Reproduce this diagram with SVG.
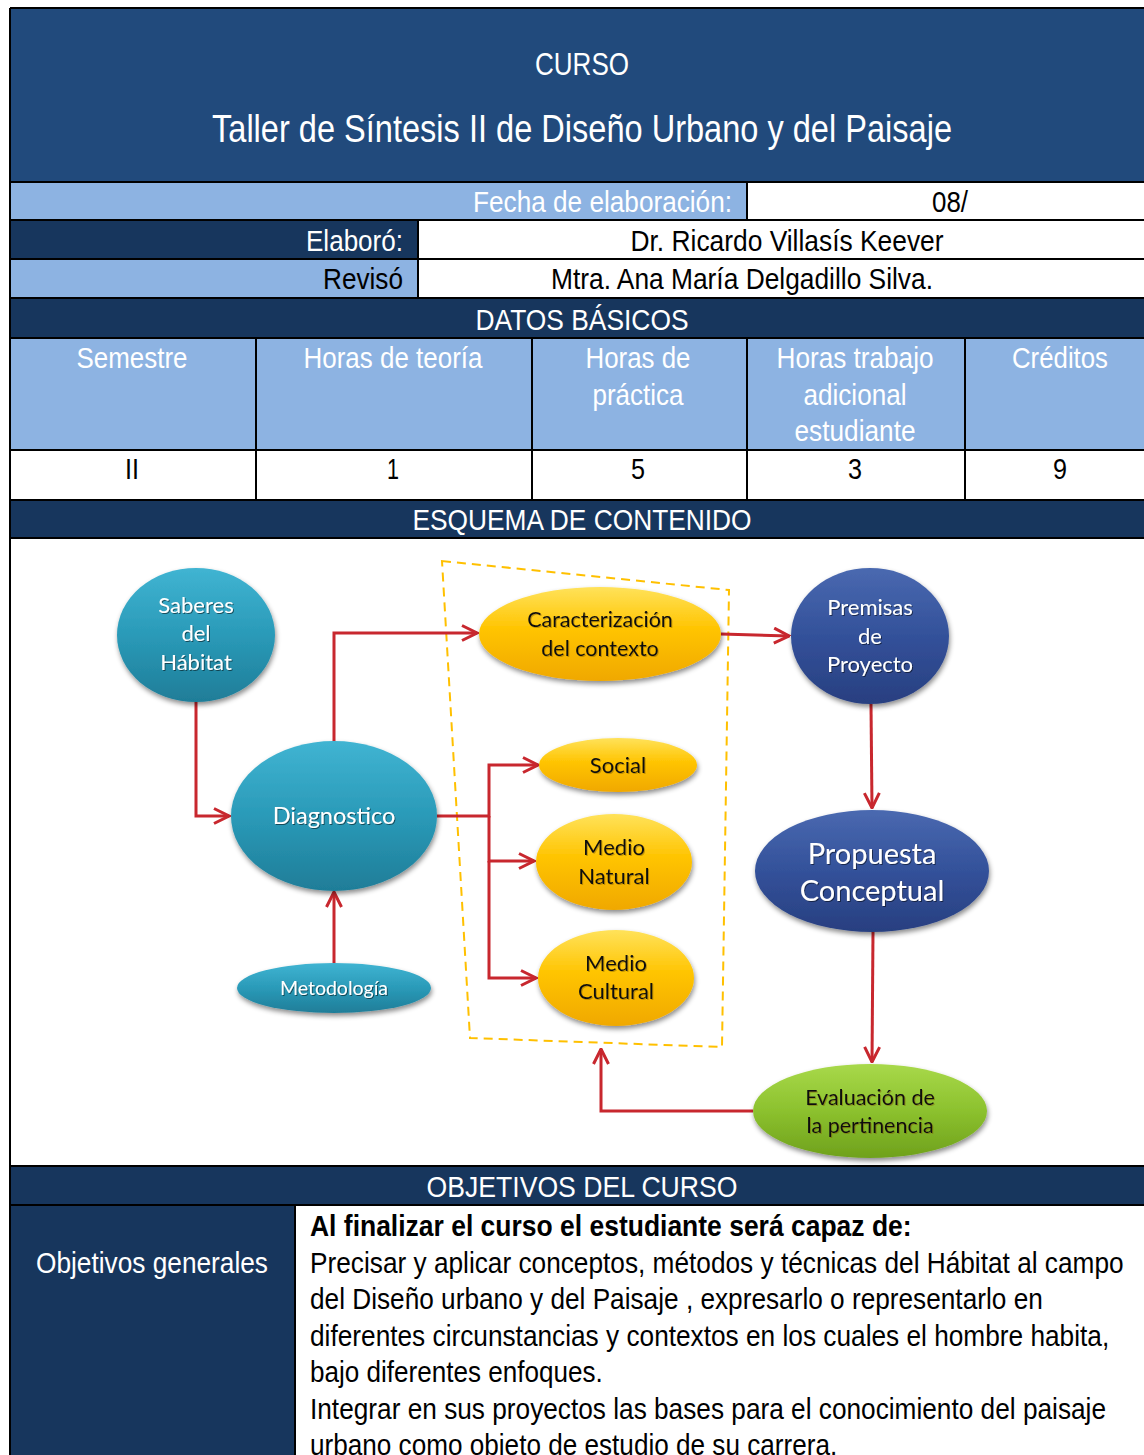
<svg xmlns="http://www.w3.org/2000/svg" width="1144" height="1455" viewBox="0 0 1144 1455">
<style>
.t{font-family:"Liberation Sans Narrow","Liberation Sans",Arial,sans-serif;font-size:30px}
.w{fill:#ffffff}.k{fill:#000000}
.c{text-anchor:middle}.r{text-anchor:end}
.d{font-family:Lato,Carlito,"Open Sans",sans-serif;text-anchor:middle}
.dw{fill:#ffffff}.dk{fill:#111111}
.ln{stroke:#000;stroke-width:2;fill:none}
.cn{stroke:#c8272e;stroke-width:3;fill:none;marker-end:url(#ar)}
</style>
<defs>
<marker id="ar" viewBox="0 0 12 12" refX="11" refY="6" markerWidth="6" markerHeight="6" markerUnits="strokeWidth" orient="auto">
<path d="M1,1 L11,6 L1,11" fill="none" stroke="#c8272e" stroke-width="2"/>
</marker>
<linearGradient id="gt" x1="0" y1="0" x2="0" y2="1"><stop offset="0" stop-color="#40b4d2"/><stop offset="0.5" stop-color="#2a9ab8"/><stop offset="1" stop-color="#1f7d98"/></linearGradient>
<linearGradient id="gy" x1="0" y1="0" x2="0" y2="1"><stop offset="0" stop-color="#ffe25a"/><stop offset="0.45" stop-color="#ffc400"/><stop offset="1" stop-color="#f0a800"/></linearGradient>
<linearGradient id="gb" x1="0" y1="0" x2="0" y2="1"><stop offset="0" stop-color="#4a69b0"/><stop offset="0.5" stop-color="#33519a"/><stop offset="1" stop-color="#283f80"/></linearGradient>
<linearGradient id="gg" x1="0" y1="0" x2="0" y2="1"><stop offset="0" stop-color="#a8d94a"/><stop offset="0.5" stop-color="#8cc12e"/><stop offset="1" stop-color="#6fa11c"/></linearGradient>
<filter id="sh" x="-20%" y="-20%" width="140%" height="150%"><feDropShadow dx="1" dy="3" stdDeviation="2.5" flood-color="#000" flood-opacity="0.45"/></filter>
<filter id="ts" x="-10%" y="-20%" width="120%" height="150%"><feDropShadow dx="1" dy="1" stdDeviation="0.6" flood-color="#000" flood-opacity="0.5"/></filter>
<filter id="tk" x="-10%" y="-20%" width="120%" height="150%"><feDropShadow dx="1" dy="1" stdDeviation="0.6" flood-color="#7a5a00" flood-opacity="0.45"/></filter>
</defs>

<rect x="0" y="0" width="1144" height="1455" fill="#ffffff"/>
<g id="header">
<rect x="10" y="8" width="1140" height="174" fill="#214a7c"/>
<text class="t w c" x="582" y="75" style="font-size:32px" textLength="94" lengthAdjust="spacingAndGlyphs">CURSO</text>
<text class="t w c" x="582" y="142" style="font-size:38px" textLength="740" lengthAdjust="spacingAndGlyphs">Taller de Síntesis II de Diseño Urbano y del Paisaje</text>
</g>
<g id="fecha">
<rect x="10" y="182" width="737" height="37" fill="#8db3e2"/>
<text class="t w r" x="732" y="212" textLength="259" lengthAdjust="spacingAndGlyphs">Fecha de elaboración:</text>
<text class="t k c" x="950" y="212" textLength="36" lengthAdjust="spacingAndGlyphs">08/</text>
</g>
<g id="elaboro">
<rect x="10" y="220" width="408" height="38" fill="#17365d"/>
<text class="t w r" x="403" y="251" textLength="97" lengthAdjust="spacingAndGlyphs">Elaboró:</text>
<text class="t k c" x="787" y="251" textLength="313" lengthAdjust="spacingAndGlyphs">Dr. Ricardo Villasís Keever</text>
</g>
<g id="reviso">
<rect x="10" y="259" width="408" height="39" fill="#8db3e2"/>
<text class="t k r" x="403" y="289" textLength="80" lengthAdjust="spacingAndGlyphs">Revisó</text>
<text class="t k c" x="742" y="289" textLength="382" lengthAdjust="spacingAndGlyphs">Mtra. Ana María Delgadillo Silva.</text>
</g>
<g id="datos">
<rect x="10" y="299" width="1140" height="38" fill="#17365d"/>
<text class="t w c" x="582" y="330" textLength="213" lengthAdjust="spacingAndGlyphs">DATOS BÁSICOS</text>
</g>
<g id="cols">
<rect x="10" y="338" width="1140" height="112" fill="#8db3e2"/>
<text class="t w c" x="132" y="368" textLength="111" lengthAdjust="spacingAndGlyphs">Semestre</text>
<text class="t w c" x="393" y="368" textLength="179" lengthAdjust="spacingAndGlyphs">Horas de teoría</text>
<text class="t w c" x="638" y="368" textLength="105" lengthAdjust="spacingAndGlyphs">Horas de</text>
<text class="t w c" x="638" y="405" textLength="91" lengthAdjust="spacingAndGlyphs">práctica</text>
<text class="t w c" x="855" y="368" textLength="157" lengthAdjust="spacingAndGlyphs">Horas trabajo</text>
<text class="t w c" x="855" y="405" textLength="103" lengthAdjust="spacingAndGlyphs">adicional</text>
<text class="t w c" x="855" y="441" textLength="121" lengthAdjust="spacingAndGlyphs">estudiante</text>
<text class="t w c" x="1060" y="368" textLength="96" lengthAdjust="spacingAndGlyphs">Créditos</text>
</g>
<g id="values">
<text class="t k c" x="132" y="479" textLength="14" lengthAdjust="spacingAndGlyphs">II</text>
<text class="t k c" x="393" y="479" textLength="12" lengthAdjust="spacingAndGlyphs">1</text>
<text class="t k c" x="638" y="479" textLength="14" lengthAdjust="spacingAndGlyphs">5</text>
<text class="t k c" x="855" y="479" textLength="14" lengthAdjust="spacingAndGlyphs">3</text>
<text class="t k c" x="1060" y="479" textLength="14" lengthAdjust="spacingAndGlyphs">9</text>
</g>
<g id="esquema">
<rect x="10" y="501" width="1140" height="37" fill="#17365d"/>
<text class="t w c" x="582" y="530" textLength="339" lengthAdjust="spacingAndGlyphs">ESQUEMA DE CONTENIDO</text>
</g>
<g id="objetivos-title">
<rect x="10" y="1167" width="1140" height="38" fill="#17365d"/>
<text class="t w c" x="582" y="1197" textLength="311" lengthAdjust="spacingAndGlyphs">OBJETIVOS DEL CURSO</text>
</g>
<g id="objetivos">
<rect x="10" y="1206" width="285" height="260" fill="#17365d"/>
<text class="t w c" x="152" y="1273" textLength="232" lengthAdjust="spacingAndGlyphs">Objetivos generales</text>
<g transform="translate(310,0) scale(0.8,1)">
<text class="t k" x="0" y="1236" style="font-weight:bold" textLength="752" lengthAdjust="spacingAndGlyphs">Al finalizar el curso el estudiante será capaz  de:</text>
<text class="t k" x="0" y="1273" textLength="1017" lengthAdjust="spacingAndGlyphs">Precisar y aplicar conceptos, métodos y técnicas del Hábitat al campo</text>
<text class="t k" x="0" y="1309" textLength="916" lengthAdjust="spacingAndGlyphs">del Diseño urbano y del Paisaje , expresarlo o representarlo en</text>
<text class="t k" x="0" y="1346" textLength="999" lengthAdjust="spacingAndGlyphs">diferentes circunstancias y contextos en los cuales el hombre habita,</text>
<text class="t k" x="0" y="1382" textLength="366" lengthAdjust="spacingAndGlyphs">bajo diferentes enfoques.</text>
<text class="t k" x="0" y="1419" textLength="995" lengthAdjust="spacingAndGlyphs">Integrar en sus proyectos las bases para el conocimiento del paisaje</text>
<text class="t k" x="0" y="1455" textLength="659" lengthAdjust="spacingAndGlyphs">urbano como objeto de estudio de su carrera.</text>
</g>
</g>
<g id="grid">
<path class="ln" d="M10,8 H1150 M10,8 V1460 M10,182 H1150 M10,220 H1150 M10,259 H1150 M10,298 H1150 M10,338 H1150 M10,450 H1150 M10,500 H1150 M10,538 H1150 M10,1166 H1150 M10,1205 H1150"/>
<path class="ln" d="M747,182 V220 M418,220 V298 M256,338 V500 M532,338 V500 M747,338 V500 M965,338 V500 M295,1205 V1460"/>
</g>

<polygon id="contexto-box" points="442,561 729,590 722,1047 470,1038" fill="none" stroke="#ffc000" stroke-width="2" stroke-dasharray="9,6"/>
<g id="connectors">
<path class="cn" d="M196,702 V816 H229"/>
<path class="cn" d="M334,742 V633 H477"/>
<path class="cn" d="M721,634 L789,636"/>
<path class="cn" d="M437,816 H489 V765 H538"/>
<path class="cn" d="M489,816 V861 H534"/>
<path class="cn" d="M489,861 V978 H536"/>
<path class="cn" d="M334,963 V892"/>
<path class="cn" d="M871,704 L872,808"/>
<path class="cn" d="M873,932 L872,1062"/>
<path class="cn" d="M753,1111 H601 V1049"/>
</g>
<g id="saberes">
<ellipse cx="196" cy="635" rx="79" ry="67" fill="url(#gt)" filter="url(#sh)"/>
<g class="d dw" font-size="22" filter="url(#ts)"><text x="196" y="613">Saberes</text><text x="196" y="641">del</text><text x="196" y="670">Hábitat</text></g>
</g>
<g id="diagnostico">
<ellipse cx="334" cy="816" rx="103" ry="75" fill="url(#gt)" filter="url(#sh)"/>
<text class="d dw" x="334" y="824" font-size="23.5" filter="url(#ts)">Diagnostico</text>
</g>
<g id="metodologia">
<ellipse cx="334" cy="988" rx="97" ry="25" fill="url(#gt)" filter="url(#sh)"/>
<text class="d dw" x="334" y="995" font-size="19.5" filter="url(#ts)">Metodología</text>
</g>
<g id="caracterizacion">
<ellipse cx="600" cy="634" rx="121" ry="47" fill="url(#gy)" filter="url(#sh)"/>
<g class="d dk" font-size="21.5" filter="url(#tk)"><text x="600" y="627">Caracterización</text><text x="600" y="656">del contexto</text></g>
</g>
<g id="social">
<ellipse cx="618" cy="765" rx="79" ry="27" fill="url(#gy)" filter="url(#sh)"/>
<text class="d dk" x="618" y="773" font-size="22" filter="url(#tk)">Social</text>
</g>
<g id="medio-natural">
<ellipse cx="614" cy="862" rx="78" ry="48" fill="url(#gy)" filter="url(#sh)"/>
<g class="d dk" font-size="22" filter="url(#tk)"><text x="614" y="855">Medio</text><text x="614" y="884">Natural</text></g>
</g>
<g id="medio-cultural">
<ellipse cx="616" cy="978" rx="78" ry="48" fill="url(#gy)" filter="url(#sh)"/>
<g class="d dk" font-size="22" filter="url(#tk)"><text x="616" y="971">Medio</text><text x="616" y="999">Cultural</text></g>
</g>
<g id="premisas">
<ellipse cx="870" cy="636" rx="79" ry="68" fill="url(#gb)" filter="url(#sh)"/>
<g class="d dw" font-size="22" filter="url(#ts)"><text x="870" y="615">Premisas</text><text x="870" y="644">de</text><text x="870" y="672">Proyecto</text></g>
</g>
<g id="propuesta">
<ellipse cx="872" cy="871" rx="117" ry="61" fill="url(#gb)" filter="url(#sh)"/>
<g class="d dw" font-size="29" filter="url(#ts)"><text x="872" y="864">Propuesta</text><text x="872" y="901">Conceptual</text></g>
</g>
<g id="evaluacion">
<ellipse cx="870" cy="1111" rx="117" ry="47" fill="url(#gg)" filter="url(#sh)"/>
<g class="d dk" font-size="21.5" filter="url(#tk)"><text x="870" y="1105">Evaluación de</text><text x="870" y="1133">la pertinencia</text></g>
</g>
</svg>
